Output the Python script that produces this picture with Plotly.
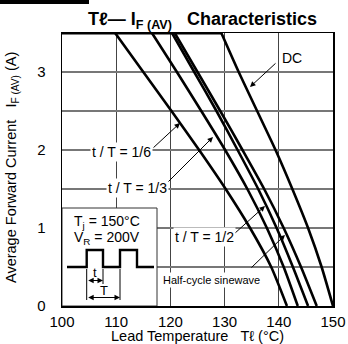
import plotly.graph_objects as go

# ---- data ----
current_levels = [3.5, 3.0, 2.5, 2.0, 1.5, 1.0, 0.5, 0.0]
temp_duty_1_6 = [109.8, 115.0, 120.2, 125.3, 130.2, 134.7, 138.6, 141.5]
temp_duty_1_3 = [116.6, 121.2, 125.7, 130.1, 134.2, 137.8, 140.9, 143.5]
temp_duty_1_2 = [120.3, 124.4, 128.5, 132.4, 136.2, 139.6, 142.6, 145.4]
temp_half_sine = [120.8, 125.0, 129.2, 133.3, 137.3, 140.9, 144.1, 147.0]
temp_dc = [129.4, 132.6, 136.0, 139.4, 142.5, 145.4, 147.9, 150.0]
max_current = 3.5
x_ticks = [100, 110, 120, 130, 140, 150]
y_tickvals = [0, 0.5, 1, 1.5, 2, 2.5, 3, 3.5]
y_ticktext = ["0", "", "1", "", "2", "", "3", ""]

W, H = 348, 344
L, R, T, B = 62, 15, 33, 38
PW, PH = W - L - R, H - T - B
XMIN, XMAX, YMIN, YMAX = 100, 150, 0, 3.5


def dx(px):  # pixel -> data x
    return XMIN + (px - L) / PW * (XMAX - XMIN)


def dy(py):  # pixel -> data y
    return YMIN + ((T + PH) - py) / PH * (YMAX - YMIN)


def px_(px):
    return (px - L) / PW


def py_(py):
    return (T + PH - py) / PH


FONT = "Arial, Liberation Sans, sans-serif"
fig = go.Figure()

# flat current limit along the top
fig.add_trace(go.Scatter(x=[XMIN, temp_dc[0]], y=[max_current, max_current], mode="lines",
                         line=dict(color="black", width=3.2), showlegend=False, cliponaxis=False))
for temps in [temp_duty_1_6, temp_duty_1_3, temp_duty_1_2, temp_half_sine, temp_dc]:
    fig.add_trace(go.Scatter(x=temps, y=current_levels, mode="lines",
                             line=dict(color="black", width=2.6, shape="spline", smoothing=0.6),
                             showlegend=False))

shapes = []
# inset box
shapes.append(dict(type="rect", xref="x", yref="y", x0=dx(62), x1=dx(157), y0=dy(208), y1=dy(306),
                   fillcolor="white", line=dict(color="#333", width=1), layer="above"))
# pulse waveform
pts = [(67, 267), (86.7, 267), (86.7, 250), (103, 250), (103, 267), (120, 267), (120, 250),
       (137, 250), (137, 267), (154, 267)]
path = "M " + " L ".join(f"{dx(a):.4f},{dy(b):.4f}" for a, b in pts)
shapes.append(dict(type="path", xref="x", yref="y", path=path, line=dict(color="black", width=2.4),
                   layer="above"))
for xx, y0, y1 in [(86.7, 269, 300), (103, 269, 284), (120, 269, 300)]:
    shapes.append(dict(type="line", xref="x", yref="y", x0=dx(xx), x1=dx(xx), y0=dy(y0), y1=dy(y1),
                       line=dict(color="black", width=1), layer="above"))
# top-left black bar
shapes.append(dict(type="rect", xref="paper", yref="paper", x0=px_(0), x1=px_(89), y0=py_(4), y1=py_(0),
                   fillcolor="black", line=dict(width=0), layer="above"))

ann = []


def label(text, cx, cy, size=14, bg="white", family=FONT, **kw):
    ann.append(dict(text=text, x=dx(cx), y=dy(cy), xref="x", yref="y", showarrow=False,
                    xanchor="center", yanchor="middle",
                    font=dict(family=family, size=size, color="black"), bgcolor=bg, borderpad=1, **kw))


def arrow(x0, y0, x1, y1, both=False):
    ann.append(dict(text="", x=dx(x1), y=dy(y1), ax=dx(x0), ay=dy(y0), xref="x", yref="y",
                    axref="x", ayref="y", showarrow=True, arrowhead=2, arrowsize=1.1,
                    arrowwidth=1, arrowcolor="black", standoff=0,
                    arrowside="end+start" if both else "end"))


label("DC", 292, 58)
arrow(277, 62, 250, 87)
label("t / T = 1/6", 121, 152)
arrow(152, 149, 180, 123)
label("t / T = 1/3", 137, 188)
arrow(167, 183, 213, 137)
label("t / T = 1/2", 204, 237)
arrow(234, 234, 265, 206)
label("Half-cycle sinewave", 211, 280, size=11, family="Liberation Sans Narrow, Arial Narrow, Arial")
arrow(250, 269, 285, 235)

label("T<sub>j</sub> = 150\u00b0C", 107, 222, bg="rgba(0,0,0,0)")
label("V<sub>R</sub> = 200V", 107, 238, bg="rgba(0,0,0,0)")
label("t", 95, 272, size=13, bg="rgba(0,0,0,0)")
label("T", 103.5, 290, size=13, bg="rgba(0,0,0,0)")
arrow(86.7, 280.5, 103, 280.5, both=True)
arrow(86.7, 297.5, 120, 297.5, both=True)

# titles
ann.append(dict(text="<b>T\u2113\u2014 I<sub>F (AV)</sub>\u00a0\u00a0\u00a0Characteristics</b>",
                x=px_(202), y=py_(21), xref="paper", yref="paper", showarrow=False,
                xanchor="center", yanchor="middle",
                font=dict(family=FONT, size=18, color="black")))
ann.append(dict(text="Lead Temperature\u00a0\u00a0\u00a0T\u2113 (\u00b0C)",
                x=px_(197), y=py_(336), xref="paper", yref="paper", showarrow=False,
                xanchor="center", yanchor="middle",
                font=dict(family=FONT, size=14.5, color="black")))
ann.append(dict(text="Average Forward Current\u00a0\u00a0\u00a0I<sub>F (AV)</sub> (A)",
                x=px_(12), y=py_(168), xref="paper", yref="paper", showarrow=False, textangle=-90,
                xanchor="center", yanchor="middle",
                font=dict(family=FONT, size=14.5, color="black")))

fig.update_layout(
    width=W, height=H, margin=dict(l=L, r=R, t=T, b=B, autoexpand=False),
    paper_bgcolor="white", plot_bgcolor="white",
    shapes=shapes, annotations=ann,
    font=dict(family=FONT, size=14, color="black"),
    xaxis=dict(range=[XMIN, XMAX], tickvals=x_ticks, showgrid=True, gridcolor="#444", gridwidth=1.2,
               showline=True, linecolor="black", linewidth=1.5, mirror=True, zeroline=False,
               ticks="outside", ticklen=1, tickcolor="white", tickfont=dict(size=15), fixedrange=True),
    yaxis=dict(range=[YMIN, YMAX], tickvals=y_tickvals, ticktext=y_ticktext, showgrid=True,
               gridcolor="#777", gridwidth=1.6, showline=True, linecolor="black", linewidth=1.5,
               mirror=True, zeroline=False, ticks="outside", ticklen=12, tickcolor="white",
               tickfont=dict(size=15), fixedrange=True),
)

fig.write_html("out.html", config={"staticPlot": True},
               post_script="document.body.style.margin='0';document.body.style.padding='0';")
